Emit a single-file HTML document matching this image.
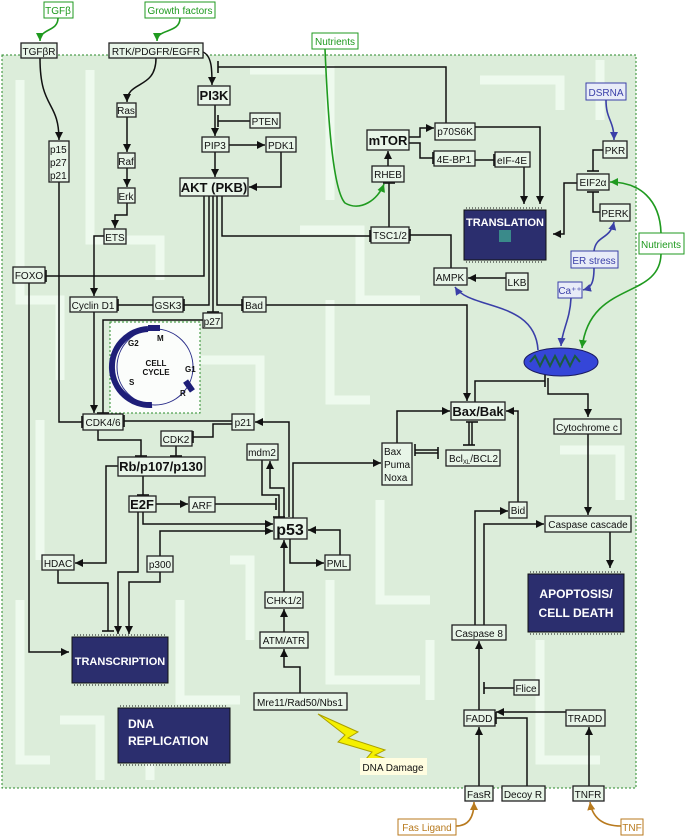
<!DOCTYPE html>
<html><head><meta charset="utf-8"><style>
html,body{margin:0;padding:0;background:#fff}
svg{display:block}
text{font-family:"Liberation Sans",sans-serif;font-size:10px;fill:#111}
.b{fill:#e8f5e8;stroke:#222;stroke-width:1.3}
.bb{font-weight:bold;font-size:13px}
.l{fill:none;stroke:#111;stroke-width:1.5}
.g{fill:none;stroke:#1f9a1f;stroke-width:1.6}
.u{fill:none;stroke:#3a3fa8;stroke-width:1.6}
.o{fill:none;stroke:#b87a1e;stroke-width:1.6}
.tr{fill:none;stroke:#eefaee;stroke-width:9}
.chip{fill:#2b2e6e;stroke:#111;stroke-width:1}
.ct{fill:#fff;font-weight:bold;font-size:11px}
</style></head><body>
<svg width="685" height="836" viewBox="0 0 685 836" xmlns="http://www.w3.org/2000/svg">
<defs>
<marker id="a" markerUnits="userSpaceOnUse" markerWidth="9" markerHeight="9" refX="8" refY="4" orient="auto"><path d="M0,0 L8,4 L0,8z" fill="#111"/></marker>
<marker id="t" markerUnits="userSpaceOnUse" markerWidth="4" markerHeight="12" refX="2" refY="6" orient="auto"><path d="M2,0 L2,12" stroke="#111" stroke-width="1.6"/></marker>
<marker id="ag" markerUnits="userSpaceOnUse" markerWidth="9" markerHeight="9" refX="8" refY="4" orient="auto"><path d="M0,0 L8,4 L0,8z" fill="#1f9a1f"/></marker>
<marker id="au" markerUnits="userSpaceOnUse" markerWidth="9" markerHeight="9" refX="8" refY="4" orient="auto"><path d="M0,0 L8,4 L0,8z" fill="#3a3fa8"/></marker>
<marker id="ao" markerUnits="userSpaceOnUse" markerWidth="9" markerHeight="9" refX="8" refY="4" orient="auto"><path d="M0,0 L8,4 L0,8z" fill="#b87a1e"/></marker>
</defs>
<rect x="2" y="55" width="634" height="733" fill="#dcedda" stroke="#2a8a2a" stroke-width="1" stroke-dasharray="2,2"/>
<g class="tr">
<path d="M20,80 V300 H60 V380"/><path d="M90,70 V240 H160 V280"/><path d="M250,70 H330 V200"/><path d="M300,230 H360 V300 H420"/>
<path d="M40,420 V560"/><path d="M120,330 V400"/><path d="M200,360 H260 V420"/><path d="M330,300 V400 H370"/>
<path d="M60,720 H100 V780"/><path d="M180,600 V700 H240"/><path d="M230,560 H250 V640"/><path d="M330,580 V680 H420"/>
<path d="M380,500 V600 H430"/><path d="M430,640 V700"/><path d="M540,640 V760 H600"/><path d="M560,450 H620 V500"/>
<path d="M600,60 V120"/><path d="M480,80 H560 V110"/><path d="M20,600 V760 H50"/><path d="M150,730 V780"/>
</g>
<rect x="110" y="322" width="90" height="91" fill="#fbfdfb" stroke="#2a8a2a" stroke-dasharray="2,2"/>
<circle cx="155" cy="367" r="38" fill="none" stroke="#2b2e8a" stroke-width="1"/>
<path d="M148,329 A38,38 0 0 0 152,405" fill="none" stroke="#1e1e78" stroke-width="6"/>
<rect x="148" y="325" width="12" height="6" fill="#1e1e78"/><rect x="186" y="380" width="6" height="12" fill="#1e1e78" transform="rotate(-35 189 386)"/>
<text x="157" y="341" style="font-size:8px;font-weight:bold">M</text><text x="128" y="346" style="font-size:8px;font-weight:bold">G2</text>
<text x="185" y="372" style="font-size:8px;font-weight:bold">G1</text><text x="129" y="385" style="font-size:8px;font-weight:bold">S</text><text x="180" y="396" style="font-size:8px;font-weight:bold">R</text>
<text x="156" y="366" text-anchor="middle" style="font-size:8px;font-weight:bold">CELL</text><text x="156" y="375" text-anchor="middle" style="font-size:8px;font-weight:bold">CYCLE</text>
<g>
<rect x="72" y="637" width="96" height="46" class="chip"/><text x="120" y="665" text-anchor="middle" class="ct">TRANSCRIPTION</text>
<rect x="118" y="708" width="112" height="55" class="chip"/><text x="128" y="728" class="ct" style="font-size:12px">DNA</text><text x="128" y="745" class="ct" style="font-size:12px">REPLICATION</text>
<rect x="464" y="210" width="82" height="50" class="chip"/><text x="505" y="226" text-anchor="middle" class="ct">TRANSLATION</text><rect x="499" y="230" width="12" height="12" fill="#3a8a8a"/>
<rect x="528" y="574" width="96" height="58" class="chip"/><text x="576" y="598" text-anchor="middle" class="ct" style="font-size:12px">APOPTOSIS/</text><text x="576" y="617" text-anchor="middle" class="ct" style="font-size:12px">CELL DEATH</text>
</g>
<g stroke="#111" stroke-width="1" stroke-dasharray="1,2">
<path d="M74,635 H166 M74,685 H166 M120,706 H228 M120,765 H228 M466,208 H544 M466,262 H544 M530,572 H622 M530,634 H622"/>
</g>
<ellipse cx="561" cy="362" rx="37" ry="14" fill="#3546d8" stroke="#1a1a60"/>
<path d="M530,362 l5,-6 l5,10 l5,-10 l5,10 l5,-10 l5,10 l5,-10 l5,10 l5,-10 l5,6" fill="none" stroke="#1a5a40" stroke-width="2"/>
<path d="M318,714 L358,732 L348,738 L385,750 L375,755 L420,770 L365,760 L372,752 L338,742 L345,735z" fill="#f5f000" stroke="#aaa000"/>
<g class="l">
<path d="M40,58 C40,110 59,100 59,140" marker-end="url(#a)"/>
<path d="M156,58 C156,90 127,80 127,102" marker-end="url(#a)"/>
<path d="M203,52 C212,56 212,70 212,85" marker-end="url(#a)"/>
<path d="M446,123 V67 H218" marker-end="url(#t)"/>
<path d="M250,121 H218" marker-end="url(#t)"/>
<path d="M215,105 V136" marker-end="url(#a)"/>
<path d="M229,145 H265" marker-end="url(#a)"/>
<path d="M215,152 V177" marker-end="url(#a)"/>
<path d="M281,152 V187 H249" marker-end="url(#a)"/>
<path d="M127,117 V152" marker-end="url(#a)"/>
<path d="M127,168 V187" marker-end="url(#a)"/>
<path d="M127,203 V215 H115 V228" marker-end="url(#a)"/>
<path d="M104,236 H94 V296" marker-end="url(#a)"/>
<path d="M204,196 V276 H46" marker-end="url(#t)"/>
<path d="M209,196 V305 H184" marker-end="url(#t)"/>
<path d="M213,196 V312" marker-end="url(#t)"/>
<path d="M217,196 V305 H242" marker-end="url(#t)"/>
<path d="M222,196 V236 H370" marker-end="url(#t)"/>
<path d="M153,305 H118" marker-end="url(#t)"/>
<path d="M266,305 H467 V401" marker-end="url(#a)"/>
<path d="M94,312 V413" marker-end="url(#a)"/>
<path d="M203,320 H103 V413" marker-end="url(#t)"/>
<path d="M29,283 V652 H69" marker-end="url(#a)"/>
<path d="M59,182 V422 H82" marker-end="url(#t)"/>
<path d="M232,421 H124" marker-end="url(#t)"/>
<path d="M232,424 H213 V437 H193" marker-end="url(#t)"/>
<path d="M289,517 V422 H255" marker-end="url(#a)"/>
<path d="M98,430 V440 H141 V456" marker-end="url(#t)"/>
<path d="M176,446 V456" marker-end="url(#t)"/>
<path d="M143,476 V495" marker-end="url(#t)"/>
<path d="M118,466 H106 V563 H75" marker-end="url(#a)"/>
<path d="M156,504 H188" marker-end="url(#a)"/>
<path d="M215,504 H276" marker-end="url(#t)"/>
<path d="M262,460 V495 H279 V517" marker-end="url(#t)"/>
<path d="M284,517 V488 H270 V461" marker-end="url(#a)"/>
<path d="M143,512 V524 H273" marker-end="url(#a)"/>
<path d="M160,556 V531 H273" marker-end="url(#a)"/>
<path d="M138,512 V572 H118 V634" marker-end="url(#a)"/>
<path d="M160,572 V582 H129 V634" marker-end="url(#a)"/>
<path d="M58,570 V583 H108 V631" marker-end="url(#t)"/>
<path d="M290,539 V563 H324" marker-end="url(#a)"/>
<path d="M340,555 V530 H308" marker-end="url(#a)"/>
<path d="M284,592 V540" marker-end="url(#a)"/>
<path d="M284,632 V609" marker-end="url(#a)"/>
<path d="M300,693 V667 H284 V649" marker-end="url(#a)"/>
<path d="M293,518 V463 H381" marker-end="url(#a)"/>
<path d="M397,443 V411 H450" marker-end="url(#a)"/>
<path d="M438,450 H415" marker-end="url(#t)"/><path d="M415,453 H438" marker-end="url(#t)"/>
<path d="M469,422 V445" marker-end="url(#t)"/><path d="M472,445 V422" marker-end="url(#t)"/>
<path d="M518,502 V411 H506" marker-end="url(#a)"/>
<path d="M475,402 V381 H545" marker-end="url(#t)"/>
<path d="M548,378 V394 H588 V417" marker-end="url(#a)"/>
<path d="M588,434 V515" marker-end="url(#a)"/>
<path d="M610,532 V568" marker-end="url(#a)"/>
<path d="M475,625 V511 H508" marker-end="url(#a)"/>
<path d="M484,625 V524 H544" marker-end="url(#a)"/>
<path d="M479,710 V641" marker-end="url(#a)"/>
<path d="M514,688 H484" marker-end="url(#t)"/>
<path d="M566,712 H496" marker-end="url(#a)"/>
<path d="M527,786 V718 H496" marker-end="url(#t)"/>
<path d="M479,786 V727" marker-end="url(#a)"/>
<path d="M589,786 V727" marker-end="url(#a)"/>
<path d="M409,137 H420 V128 H434" marker-end="url(#a)"/>
<path d="M409,143 H420 V158 H433" marker-end="url(#t)"/>
<path d="M475,160 H494" marker-end="url(#t)"/>
<path d="M524,167 V204" marker-end="url(#a)"/>
<path d="M475,127 H540 V204" marker-end="url(#a)"/>
<path d="M388,166 V151" marker-end="url(#a)"/>
<path d="M389,227 V183" marker-end="url(#t)"/>
<path d="M451,268 V235 H410" marker-end="url(#t)"/>
<path d="M506,278 H468" marker-end="url(#a)"/>
<path d="M577,183 H564 V234 H553" marker-end="url(#a)"/>
<path d="M603,150 H593 V171" marker-end="url(#t)"/>
<path d="M600,212 H593 V192" marker-end="url(#t)"/>
</g>
<path class="g" d="M58,18 C58,32 40,28 40,41" marker-end="url(#ag)"/>
<path class="g" d="M180,18 C180,34 157,28 157,41" marker-end="url(#ag)"/>
<path class="g" d="M325,49 C328,120 333,190 345,203 C360,212 378,200 384,184" marker-end="url(#ag)"/>
<path class="g" d="M661,233 C660,200 640,182 610,182" marker-end="url(#ag)"/>
<path class="g" d="M661,254 C660,300 590,280 582,348" marker-end="url(#ag)"/>
<path class="u" d="M606,100 C606,120 614,120 614,140" marker-end="url(#au)"/>
<path class="u" d="M594,251 C596,235 610,240 614,222" marker-end="url(#au)"/>
<path class="u" d="M594,268 C594,285 590,288 583,290" marker-end="url(#au)"/>
<path class="u" d="M571,298 C570,320 562,330 561,346" marker-end="url(#au)"/>
<path class="u" d="M538,350 C535,300 470,310 455,287" marker-end="url(#au)"/>
<path class="o" d="M456,826 C470,826 474,815 474,802" marker-end="url(#ao)"/>
<path class="o" d="M621,826 C600,826 592,815 590,802" marker-end="url(#ao)"/>
<g>
<rect x="44" y="2" width="29" height="16" fill="#fff" stroke="#1f9a1f"/><text x="58" y="14" text-anchor="middle" style="fill:#1f9a1f">TGFβ</text>
<rect x="145" y="2" width="70" height="16" fill="#fff" stroke="#1f9a1f"/><text x="180" y="14" text-anchor="middle" style="fill:#1f9a1f">Growth factors</text>
<rect x="312" y="33" width="46" height="16" fill="#fff" stroke="#1f9a1f"/><text x="335" y="45" text-anchor="middle" style="fill:#1f9a1f">Nutrients</text>
<rect x="639" y="233" width="45" height="21" fill="#fff" stroke="#1f9a1f"/><text x="661" y="248" text-anchor="middle" style="fill:#1f9a1f">Nutrients</text>
<rect x="586" y="83" width="40" height="17" fill="#e8ecf8" stroke="#3a3fa8"/><text x="606" y="96" text-anchor="middle" style="fill:#3a3fa8">DSRNA</text>
<rect x="571" y="251" width="47" height="17" fill="#e8ecf8" stroke="#3a3fa8"/><text x="594" y="264" text-anchor="middle" style="fill:#3a3fa8">ER stress</text>
<rect x="558" y="282" width="24" height="16" fill="#e8ecf8" stroke="#3a3fa8"/><text x="570" y="294" text-anchor="middle" style="fill:#3a3fa8">Ca⁺⁺</text>
<rect x="398" y="819" width="58" height="16" fill="#fff" stroke="#b87a1e"/><text x="427" y="831" text-anchor="middle" style="fill:#b87a1e">Fas Ligand</text>
<rect x="621" y="819" width="22" height="16" fill="#fff" stroke="#b87a1e"/><text x="632" y="831" text-anchor="middle" style="fill:#b87a1e">TNF</text>
<rect x="360" y="758" width="67" height="17" fill="#fffde0" stroke="none"/><text x="393" y="771" text-anchor="middle">DNA Damage</text>
</g>
<g>
<rect class="b" x="21" y="43" width="36" height="15"/><text x="39" y="55" text-anchor="middle">TGFβR</text>
<rect class="b" x="109" y="43" width="94" height="15"/><text x="156" y="55" text-anchor="middle">RTK/PDGFR/EGFR</text>
<rect class="b" x="198" y="86" width="32" height="19"/><text x="214" y="100" text-anchor="middle" class="bb">PI3K</text>
<rect class="b" x="250" y="113" width="30" height="15"/><text x="265" y="125" text-anchor="middle">PTEN</text>
<rect class="b" x="202" y="137" width="27" height="15"/><text x="215" y="149" text-anchor="middle">PIP3</text>
<rect class="b" x="266" y="137" width="30" height="15"/><text x="281" y="149" text-anchor="middle">PDK1</text>
<rect class="b" x="180" y="178" width="68" height="18"/><text x="214" y="192" text-anchor="middle" class="bb">AKT (PKB)</text>
<rect class="b" x="117" y="103" width="19" height="14"/><text x="126" y="114" text-anchor="middle">Ras</text>
<rect class="b" x="118" y="153" width="17" height="15"/><text x="126" y="165" text-anchor="middle">Raf</text>
<rect class="b" x="118" y="188" width="17" height="15"/><text x="126" y="200" text-anchor="middle">Erk</text>
<rect class="b" x="104" y="229" width="22" height="15"/><text x="115" y="241" text-anchor="middle">ETS</text>
<rect class="b" x="49" y="141" width="20" height="41"/><text x="50" y="153">p15</text><text x="50" y="166">p27</text><text x="50" y="179">p21</text>
<rect class="b" x="13" y="267" width="32" height="16"/><text x="29" y="279" text-anchor="middle">FOXO</text>
<rect class="b" x="70" y="297" width="47" height="15"/><text x="93" y="309" text-anchor="middle">Cyclin D1</text>
<rect class="b" x="153" y="297" width="30" height="15"/><text x="168" y="309" text-anchor="middle">GSK3</text>
<rect class="b" x="203" y="313" width="19" height="15"/><text x="212" y="325" text-anchor="middle">p27</text>
<rect class="b" x="243" y="297" width="23" height="15"/><text x="254" y="309" text-anchor="middle">Bad</text>
<rect class="b" x="83" y="414" width="40" height="16"/><text x="103" y="426" text-anchor="middle">CDK4/6</text>
<rect class="b" x="232" y="414" width="22" height="16"/><text x="243" y="426" text-anchor="middle">p21</text>
<rect class="b" x="161" y="431" width="31" height="15"/><text x="176" y="443" text-anchor="middle">CDK2</text>
<rect class="b" x="247" y="444" width="31" height="16"/><text x="262" y="456" text-anchor="middle">mdm2</text>
<rect class="b" x="118" y="457" width="87" height="19"/><text x="161" y="471" text-anchor="middle" class="bb">Rb/p107/p130</text>
<rect class="b" x="129" y="496" width="27" height="16"/><text x="142" y="509" text-anchor="middle" class="bb">E2F</text>
<rect class="b" x="189" y="497" width="26" height="15"/><text x="202" y="509" text-anchor="middle">ARF</text>
<rect class="b" x="274" y="518" width="33" height="21"/><text x="290" y="535" text-anchor="middle" class="bb" style="font-size:16px">p53</text>
<rect class="b" x="42" y="555" width="32" height="15"/><text x="58" y="567" text-anchor="middle">HDAC</text>
<rect class="b" x="147" y="556" width="26" height="16"/><text x="160" y="568" text-anchor="middle">p300</text>
<rect class="b" x="325" y="555" width="25" height="15"/><text x="337" y="567" text-anchor="middle">PML</text>
<rect class="b" x="265" y="592" width="38" height="16"/><text x="284" y="604" text-anchor="middle">CHK1/2</text>
<rect class="b" x="260" y="632" width="48" height="16"/><text x="284" y="644" text-anchor="middle">ATM/ATR</text>
<rect class="b" x="254" y="693" width="93" height="17"/><text x="300" y="706" text-anchor="middle">Mre11/Rad50/Nbs1</text>
<rect class="b" x="435" y="123" width="40" height="17"/><text x="455" y="135" text-anchor="middle">p70S6K</text>
<rect class="b" x="367" y="130" width="42" height="20"/><text x="388" y="145" text-anchor="middle" class="bb">mTOR</text>
<rect class="b" x="434" y="151" width="41" height="15"/><text x="454" y="163" text-anchor="middle">4E-BP1</text>
<rect class="b" x="495" y="152" width="35" height="15"/><text x="512" y="164" text-anchor="middle">eIF-4E</text>
<rect class="b" x="372" y="166" width="32" height="16"/><text x="388" y="178" text-anchor="middle">RHEB</text>
<rect class="b" x="371" y="227" width="38" height="16"/><text x="390" y="239" text-anchor="middle">TSC1/2</text>
<rect class="b" x="603" y="141" width="24" height="17"/><text x="615" y="154" text-anchor="middle">PKR</text>
<rect class="b" x="577" y="174" width="32" height="16"/><text x="593" y="186" text-anchor="middle">EIF2α</text>
<rect class="b" x="600" y="204" width="30" height="17"/><text x="615" y="217" text-anchor="middle">PERK</text>
<rect class="b" x="434" y="268" width="33" height="17"/><text x="450" y="281" text-anchor="middle">AMPK</text>
<rect class="b" x="506" y="273" width="22" height="17"/><text x="517" y="286" text-anchor="middle">LKB</text>
<rect class="b" x="451" y="402" width="54" height="18"/><text x="478" y="416" text-anchor="middle" class="bb">Bax/Bak</text>
<rect class="b" x="382" y="443" width="30" height="42"/><text x="384" y="455">Bax</text><text x="384" y="468">Puma</text><text x="384" y="481">Noxa</text>
<rect class="b" x="446" y="450" width="54" height="16"/><text x="449" y="462">Bcl<tspan style="font-size:6px" dy="2">XL</tspan><tspan dy="-2">/BCL2</tspan></text>
<rect class="b" x="554" y="419" width="67" height="15"/><text x="587" y="431" text-anchor="middle">Cytochrome c</text>
<rect class="b" x="509" y="502" width="18" height="16"/><text x="518" y="514" text-anchor="middle">Bid</text>
<rect class="b" x="545" y="516" width="86" height="16"/><text x="588" y="528" text-anchor="middle">Caspase cascade</text>
<rect class="b" x="452" y="625" width="54" height="15"/><text x="479" y="637" text-anchor="middle">Caspase 8</text>
<rect class="b" x="514" y="680" width="25" height="15"/><text x="526" y="692" text-anchor="middle">Flice</text>
<rect class="b" x="464" y="710" width="31" height="16"/><text x="479" y="722" text-anchor="middle">FADD</text>
<rect class="b" x="566" y="710" width="39" height="16"/><text x="585" y="722" text-anchor="middle">TRADD</text>
<rect class="b" x="465" y="786" width="28" height="15"/><text x="479" y="798" text-anchor="middle">FasR</text>
<rect class="b" x="502" y="786" width="43" height="15"/><text x="523" y="798" text-anchor="middle">Decoy R</text>
<rect class="b" x="573" y="786" width="31" height="15"/><text x="588" y="798" text-anchor="middle">TNFR</text>
</g>
</svg>
</body></html>
